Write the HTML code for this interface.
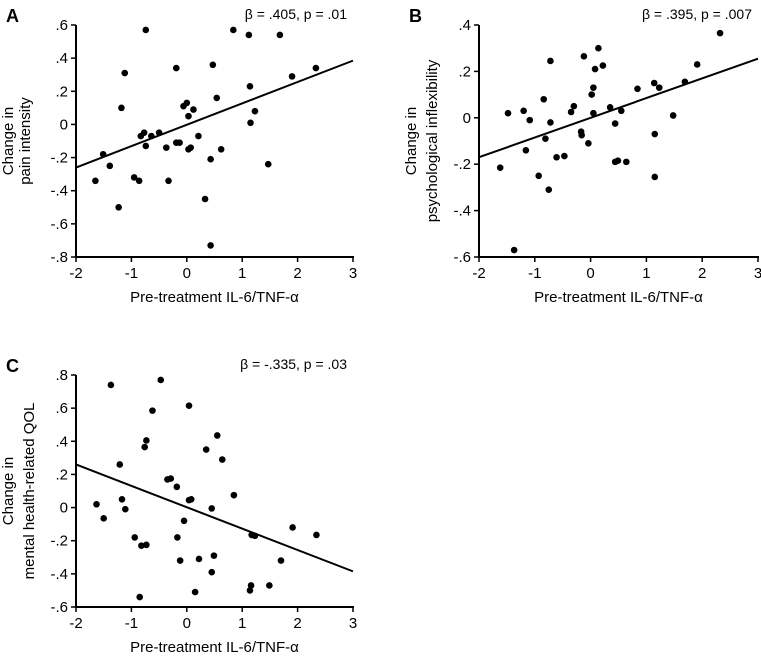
<!DOCTYPE html>
<html><head><meta charset="utf-8"><style>
body{margin:0;background:#fff;}
svg{display:block;font-family:"Liberation Sans",Arial,sans-serif;}
</style></head><body>
<svg id="fig" width="761" height="657" viewBox="0 0 761 657" xmlns="http://www.w3.org/2000/svg"></svg>
<script>
const xTicks=[-2,-1,0,1,2,3];
const xTickLabels=["-2","-1","0","1","2","3"];
const aX=[-1.65,-1.12,-1.18,-1.51,-1.39,-1.23,-0.95,-0.86,-0.83,-0.77,-0.74,-0.74,-0.64,-0.50,-0.37,-0.33,-0.19,-0.19,-0.13,-0.06,0.0,0.03,0.03,0.07,0.12,0.21,0.33,0.43,0.43,0.47,0.54,0.62,0.84,1.12,1.14,1.15,1.23,1.47,1.68,1.90,2.33];
const aY=[-0.34,0.31,0.10,-0.18,-0.25,-0.50,-0.32,-0.34,-0.07,-0.05,0.57,-0.13,-0.07,-0.05,-0.14,-0.34,0.34,-0.11,-0.11,0.11,0.13,0.05,-0.15,-0.14,0.09,-0.07,-0.45,-0.21,-0.73,0.36,0.16,-0.15,0.57,0.54,0.23,0.01,0.08,-0.24,0.54,0.29,0.34];
const aTicks=[0.6,0.4,0.2,0,-0.2,-0.4,-0.6,-0.8];
const aTickLabels=[".6",".4",".2","0","-.2","-.4","-.6","-.8"];
const aLine=[-0.26,0.385];
const bX=[-1.62,-1.48,-1.37,-1.20,-1.16,-1.09,-0.93,-0.84,-0.81,-0.75,-0.72,-0.72,-0.61,-0.47,-0.35,-0.30,-0.17,-0.16,-0.12,-0.04,0.02,0.05,0.05,0.08,0.14,0.22,0.35,0.44,0.44,0.49,0.55,0.64,0.84,1.14,1.15,1.15,1.23,1.48,1.69,1.91,2.32];
const bY=[-0.215,0.02,-0.57,0.03,-0.14,-0.01,-0.25,0.08,-0.09,-0.31,0.245,-0.02,-0.17,-0.165,0.025,0.05,-0.06,-0.075,0.265,-0.11,0.10,0.13,0.02,0.21,0.30,0.225,0.045,-0.025,-0.19,-0.185,0.03,-0.19,0.125,0.15,-0.07,-0.255,0.13,0.01,0.155,0.23,0.365];
const bTicks=[0.4,0.2,0,-0.2,-0.4,-0.6];
const bTickLabels=[".4",".2","0","-.2","-.4","-.6"];
const bLine=[-0.17,0.255];
const cX=[-1.63,-1.50,-1.37,-1.21,-1.17,-1.11,-0.94,-0.85,-0.82,-0.76,-0.73,-0.73,-0.62,-0.47,-0.35,-0.29,-0.18,-0.17,-0.12,-0.05,0.04,0.04,0.08,0.15,0.22,0.35,0.45,0.45,0.49,0.55,0.64,0.85,1.14,1.16,1.17,1.23,1.49,1.70,1.91,2.34];
const cY=[0.02,-0.065,0.74,0.26,0.05,-0.01,-0.18,-0.54,-0.23,0.365,-0.225,0.405,0.585,0.77,0.17,0.175,0.125,-0.18,-0.32,-0.08,0.615,0.045,0.05,-0.51,-0.31,0.35,-0.005,-0.39,-0.29,0.435,0.29,0.075,-0.50,-0.47,-0.165,-0.17,-0.47,-0.32,-0.12,-0.165];
const cTicks=[0.8,0.6,0.4,0.2,0,-0.2,-0.4,-0.6];
const cTickLabels=[".8",".6",".4",".2","0","-.2","-.4","-.6"];
const cLine=[0.26,-0.385];

const NS="http://www.w3.org/2000/svg";
const svg=document.getElementById('fig');
function mk(tag,attrs,parent){const e=document.createElementNS(NS,tag);for(const k in attrs)e.setAttribute(k,attrs[k]);parent.appendChild(e);return e;}

function panel(id,letter,stat,ytitle,xs,ys,yTicks,yLabels,line,px0,px1,py0,py1,ymax,ymin,gap){
  const g=mk('g',{},svg);
  
  
  const sx=v=>px0+(v-(-2))/(3-(-2))*(px1-px0);
  const sy=v=>py0+(ymax-v)/(ymax-ymin)*(py1-py0);
  const lt=mk('text',{x:px0-70,y:py0-3,'font-size':18,'font-weight':'bold'},g);lt.textContent=letter;
  
  
  const st=mk('text',{x:px1-6,y:py0-6,'font-size':14,'text-anchor':'end'},g);st.textContent=stat;
  
  
  const ya=mk('line',{x1:px0,y1:py0,x2:px0,y2:py1,stroke:'#000','stroke-width':2},g);
  
  
  const xa=mk('line',{x1:px0-1,y1:py1,x2:px1+1,y2:py1,stroke:'#000','stroke-width':2},g);
  
  
  yTicks.forEach((v,i)=>{
    const y=sy(v);
    mk('line',{x1:px0-5,y1:y,x2:px0,y2:y,stroke:'#000','stroke-width':1.5},g);
    const t=mk('text',{x:px0-8,y:y+5,'font-size':15,'text-anchor':'end'},g);t.textContent=yLabels[i];
    
    
  });
  xTicks.forEach((v,i)=>{
    const x=sx(v);
    mk('line',{x1:x,y1:py1,x2:x,y2:py1+5,stroke:'#000','stroke-width':1.5},g);
    const t=mk('text',{x:x,y:py1+21,'font-size':15,'text-anchor':'middle'},g);t.textContent=xTickLabels[i];
    
    
  });
  const xt=mk('text',{x:(px0+px1)/2,y:py1+45,'font-size':15,'text-anchor':'middle'},g);xt.textContent='Pre-treatment IL-6/TNF-α';
  
  
  const cy=(py0+py1)/2;
  const yt=mk('text',{transform:`translate(${px0-63},${cy}) rotate(-90)`,'font-size':15,'text-anchor':'middle'},g);
  const s1=mk('tspan',{x:0,dy:0},yt);s1.textContent='Change in';
  const s2=mk('tspan',{x:0,dy:gap},yt);s2.textContent=ytitle;
  
  
  const rl=mk('line',{x1:sx(-2),y1:sy(line[0]),x2:sx(3),y2:sy(line[1]),stroke:'#000','stroke-width':2},g);
  
  
  xs.forEach((v,i)=>{
    const c=mk('circle',{cx:sx(v),cy:sy(ys[i]),r:3.3,fill:'#000'},g);
    
    
  });
}
panel('a','A','β = .405, p = .01','pain intensity',aX,aY,aTicks,aTickLabels,aLine,76,353,25,257,0.6,-0.8,17);
panel('b','B','β = .395, p = .007','psychological inflexibility',bX,bY,bTicks,bTickLabels,bLine,479,758,25,257,0.4,-0.6,21);
panel('c','C','β = -.335, p = .03','mental health-related QOL',cX,cY,cTicks,cTickLabels,cLine,76,353,375,607,0.8,-0.6,21);
</script>
</body></html>
